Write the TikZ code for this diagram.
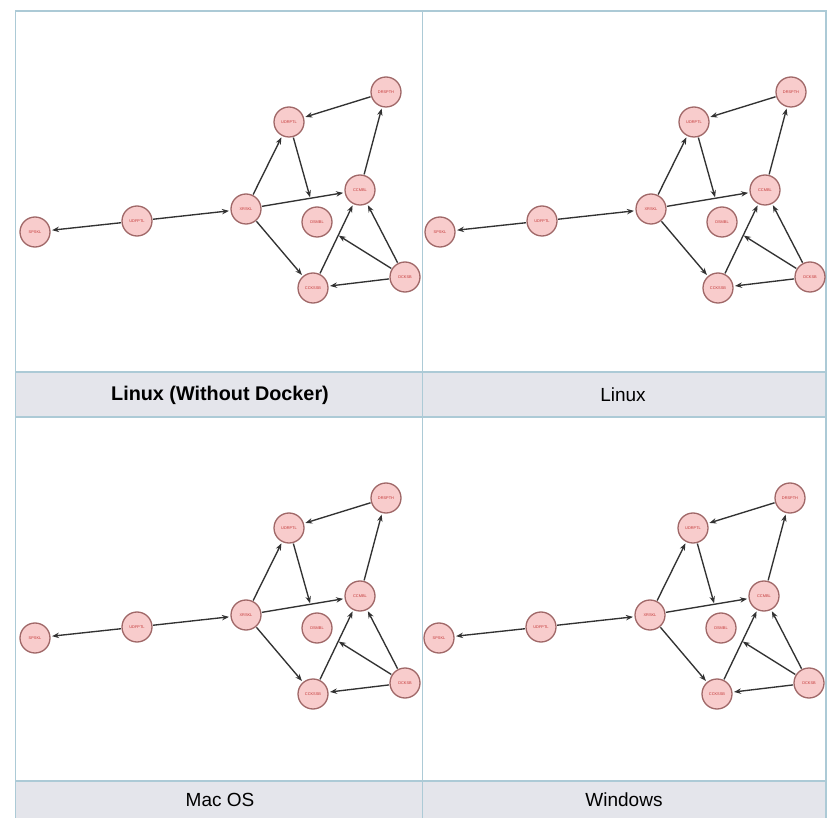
\documentclass[tikz,border=0pt]{standalone}
\usepackage{fontspec}
\setmainfont{Liberation Sans}
\usetikzlibrary{arrows.meta}

\definecolor{framecol}{RGB}{172,202,214}
\definecolor{bandcol}{RGB}{228,229,235}
\definecolor{nodefill}{RGB}{248,204,204}
\definecolor{noderim}{RGB}{160,104,104}
\definecolor{nodetext}{RGB}{196,58,58}
\definecolor{edgecol}{RGB}{50,50,50}

\tikzset{
  gene/.style={circle, minimum size=30pt, inner sep=0pt, fill=nodefill,
    draw=noderim, line width=1.3pt, text=nodetext,
    font=\fontsize{3.9}{4.5}\selectfont},
  edge/.style={draw=edgecol, line width=1.35pt,
    -{Stealth[length=7pt,width=5.4pt]}, shorten >=1.5pt, shorten <=0.5pt},
  shortedge/.style={edge, shorten >=10pt},
  frameline/.style={draw=framecol, line width=1.6pt},
  bandlabel/.style={text=black, font=\fontsize{19}{22}\selectfont},
}

% one interaction network, coordinates in pixels, y pointing down
\newcommand\osnet{%
  \node[gene] (A) at (35,232)  {SPSKL};
  \node[gene] (B) at (137,221) {UDFPTL};
  \node[gene] (C) at (246,209) {XRSKL};
  \node[gene] (D) at (289,122) {UDRPTL};
  \node[gene] (E) at (386,92)  {DRSPTH};
  \node[gene] (F) at (360,190) {CCMBL};
  \node[gene] (G) at (317,222) {DSMBL};
  \node[gene] (H) at (313,288) {CCKSSB};
  \node[gene] (I) at (405,277) {DCKSB};
  \draw[edge] (B) -- (A);
  \draw[edge] (B) -- (C);
  \draw[edge] (C) -- (D);
  \draw[edge] (C) -- (F);
  \draw[edge] (C) -- (H);
  \draw[shortedge] (D) -- (G);
  \draw[edge] (E) -- (D);
  \draw[edge] (F) -- (E);
  \draw[edge] (H) -- (F);
  \draw[edge] (I) -- (F);
  \draw[edge] (I) -- (H);
  \draw[shortedge] (I) -- (G);
}

\begin{document}
\begin{tikzpicture}[x=1pt, y=-1pt]
  \useasboundingbox (0,0) rectangle (828,818);
  \fill[white] (0,0) rectangle (828,818);

  % caption bands
  \fill[bandcol] (15.5,372) rectangle (826,417);
  \fill[bandcol] (15.5,781) rectangle (826,818);

  % panel frame
  \draw[frameline] (15.5,818) -- (15.5,11) -- (826,11) -- (826,818);
  \draw[frameline] (422.5,11) -- (422.5,818);
  \draw[frameline] (15.5,372) -- (826,372);
  \draw[frameline] (15.5,417) -- (826,417);
  \draw[frameline] (15.5,781) -- (826,781);

  % captions
  \node[bandlabel, font=\fontsize{19.8}{22}\selectfont\bfseries] (capA) at (220,395) {Linux (Without Docker)};
  \node[bandlabel] (capB) at (623,395) {Linux};
  \node[bandlabel] (capC) at (220,800) {Mac OS};
  \node[bandlabel] (capD) at (624,800) {Windows};

  % the four networks
  \begin{scope}[shift={(0,0)}, name prefix=nw-]
    \osnet
  \end{scope}
  \begin{scope}[shift={(405,0)}, name prefix=ne-]
    \osnet
  \end{scope}
  \begin{scope}[shift={(0,406)}, name prefix=sw-]
    \osnet
  \end{scope}
  \begin{scope}[shift={(404,406)}, name prefix=se-]
    \osnet
  \end{scope}
\end{tikzpicture}
\end{document}
